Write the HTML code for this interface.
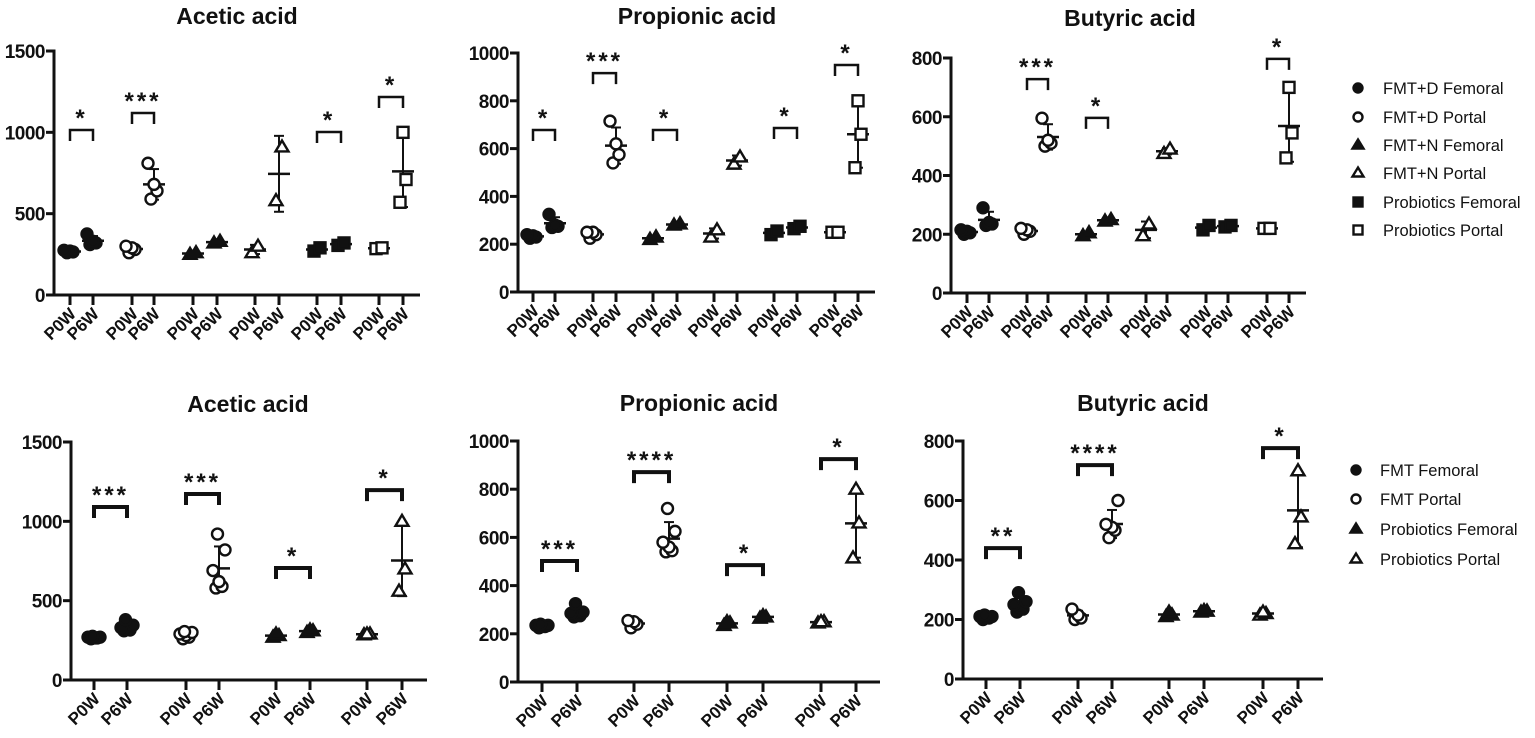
<!DOCTYPE html>
<html><head><meta charset="utf-8">
<style>
html,body{margin:0;padding:0;background:#fff;}
svg{display:block;font-family:"Liberation Sans",Arial,sans-serif;}
</style></head>
<body>
<svg id="fig" width="1535" height="738" viewBox="0 0 1535 738" xmlns="http://www.w3.org/2000/svg"></svg>
<script>
// ---------- DATA ----------
const topShapes = ['circle','circle','tri','tri','square','square'];
const topFilled = [1,0,1,0,1,0];
const botShapes = ['circle','circle','tri','tri'];
const botFilled = [1,0,1,0];
const timeLabels = ['P0W','P6W'];

const topAceticP0W = [[260,265,270,275],[260,280,290,300],[250,260],[260,300],[270,290],[285,290]];
const topAceticP6W = [[310,320,330,375],[590,640,680,810],[320,330],[580,910],[305,320],[570,710,1000]];
const topAceticSig = [[0,'*',1014],[1,'***',1119],[4,'*',1002],[5,'*',1217]];
const topAceticTicks = [0,500,1000,1500];

const topPropP0W = [[225,230,235,240],[225,240,250,250],[220,230],[230,260],[240,255],[250,250]];
const topPropP6W = [[270,275,280,325],[540,575,620,715],[280,285],[535,565],[265,275],[520,660,800]];
const topPropSig = [[0,'*',678],[1,'***',916],[2,'*',678],[4,'*',686],[5,'*',950]];
const topPropTicks = [0,200,400,600,800,1000];

const topButP0W = [[200,205,210,215],[200,210,215,220],[195,205],[195,235],[215,230],[220,220]];
const topButP6W = [[230,235,240,290],[500,510,520,595],[245,250],[475,490],[225,230],[460,545,700]];
const topButSig = [[1,'***',728],[2,'*',596],[5,'*',797]];
const topButTicks = [0,200,400,600,800];

const botAceticP0W = [[260,265,265,270,270,275],[260,270,280,290,300,305],[270,280,290],[285,290,290]];
const botAceticP6W = [[310,315,320,330,345,380],[580,590,620,690,820,920],[300,310,315],[560,700,1000]];
const botAceticSig = [[0,'***',1090],[1,'***',1172],[2,'*',706],[3,'*',1197]];

const botPropP0W = [[225,230,230,235,235,240],[225,240,250,255],[235,245,250],[245,250,250]];
const botPropP6W = [[270,275,280,285,290,325],[540,545,560,580,625,720],[265,270,275],[515,660,800]];
const botPropSig = [[0,'***',502],[1,'****',871],[2,'*',485],[3,'*',925]];

const botButP0W = [[200,205,205,210,210,215],[200,205,215,235],[210,215,225],[215,220,225]];
const botButP6W = [[225,235,240,250,260,290],[475,500,510,520,600],[225,228,230],[455,545,700]];
const botButSig = [[0,'**',440],[1,'****',719],[3,'*',776]];

const topLegend = ['FMT+D Femoral','FMT+D Portal','FMT+N Femoral','FMT+N Portal','Probiotics Femoral','Probiotics Portal'];
const botLegend = ['FMT  Femoral','FMT  Portal','Probiotics  Femoral','Probiotics  Portal'];

// ---------- LAYOUT ----------
const panels = [
 {name:'top-acetic',title:'Acetic acid',tx:237,ty:24,ax:54,yT:51,y0:295,xe:420,max:1500,ticks:topAceticTicks,
  cx:[70,93,132,154,193,217,255,279,317,341,379,403],p0:topAceticP0W,p6:topAceticP6W,sig:topAceticSig,shapes:topShapes,filled:topFilled,bw:2.5},
 {name:'top-propionic',title:'Propionic acid',tx:697,ty:24,ax:518,yT:53,y0:292,xe:875,max:1000,ticks:topPropTicks,
  cx:[533,555,593,616,653,677,714,737,774,797,835,858],p0:topPropP0W,p6:topPropP6W,sig:topPropSig,shapes:topShapes,filled:topFilled,bw:2.5},
 {name:'top-butyric',title:'Butyric acid',tx:1130,ty:26,ax:951,yT:58,y0:293,xe:1306,max:800,ticks:topButTicks,
  cx:[967,989,1027,1048,1086,1108,1146,1167,1206,1228,1267,1289],p0:topButP0W,p6:topButP6W,sig:topButSig,shapes:topShapes,filled:topFilled,bw:2.5},
 {name:'bottom-acetic',title:'Acetic acid',tx:248,ty:412,ax:71,yT:442,y0:680,xe:427,max:1500,ticks:topAceticTicks,
  cx:[94,127,186,219,276,310,367,402],p0:botAceticP0W,p6:botAceticP6W,sig:botAceticSig,shapes:botShapes,filled:botFilled,bw:4},
 {name:'bottom-propionic',title:'Propionic acid',tx:699,ty:411,ax:518,yT:441,y0:682,xe:880,max:1000,ticks:topPropTicks,
  cx:[542,577,634,669,727,763,821,856],p0:botPropP0W,p6:botPropP6W,sig:botPropSig,shapes:botShapes,filled:botFilled,bw:4},
 {name:'bottom-butyric',title:'Butyric acid',tx:1143,ty:411,ax:963,yT:441,y0:679,xe:1323,max:800,ticks:topButTicks,
  cx:[986,1020,1078,1112,1169,1204,1263,1298],p0:botButP0W,p6:botButP6W,sig:botButSig,shapes:botShapes,filled:botFilled,bw:4}
];
const jit = [-3,3,0,-6,6,-1.5,1.5];

const svg = document.getElementById('fig');
const NS = 'http://www.w3.org/2000/svg';
function mk(tag, attrs, parent){
  const e = document.createElementNS(NS, tag);
  for (const k in attrs) e.setAttribute(k, attrs[k]);
  (parent||svg).appendChild(e);
  return e;
}
function marker(g, shape, filled, x, y, s){
  const fill = filled ? '#111' : '#fff';
  let m;
  if (shape==='circle') m = mk('circle',{cx:x,cy:y,r:s,fill:fill,stroke:'#111','stroke-width':2.4},g);
  else if (shape==='square') m = mk('rect',{x:x-s,y:y-s,width:2*s,height:2*s,fill:fill,stroke:'#111','stroke-width':2.4},g);
  else m = mk('polygon',{points:`${x},${y-s-1} ${x+s+1},${y+s-1} ${x-s-1},${y+s-1}`,fill:fill,stroke:'#111','stroke-width':2.4,'stroke-linejoin':'miter'},g);
  return m;
}
function stats(a){
  const m = a.reduce((s,v)=>s+v,0)/a.length;
  const sd = a.length>1 ? Math.sqrt(a.reduce((s,v)=>s+(v-m)*(v-m),0)/(a.length-1)) : 0;
  return [m,sd];
}

panels.forEach(p=>{
  const g = mk('g',{});
  
  
  const Y = v => p.y0 - v/p.max*(p.y0-p.yT);
  const t = mk('text',{x:p.tx,y:p.ty,'text-anchor':'middle','font-size':23,'font-weight':'bold',fill:'#111'},g);
  t.textContent = p.title;
  
  
  const ya = mk('line',{x1:p.ax,y1:p.yT-1.5,x2:p.ax,y2:p.y0,stroke:'#111','stroke-width':3},g);
  
  
  const xa = mk('line',{x1:p.ax-1.5,y1:p.y0,x2:p.xe,y2:p.y0,stroke:'#111','stroke-width':3},g);
  
  
  p.ticks.forEach(v=>{
    mk('line',{x1:p.ax-8,y1:Y(v),x2:p.ax,y2:Y(v),stroke:'#111','stroke-width':3},g);
    const tl = mk('text',{x:p.ax-9,y:Y(v)+7,'text-anchor':'end','font-size':19,'font-weight':'bold',fill:'#111','letter-spacing':-0.5},g);
    tl.textContent = v;
    
    
  });
  p.cx.forEach((x,i)=>{
    mk('line',{x1:x,y1:p.y0,x2:x,y2:p.y0+10,stroke:'#111','stroke-width':3},g);
    const xl = mk('text',{x:x+7,y:p.y0+20,'text-anchor':'end','font-size':17,'font-weight':'bold',fill:'#111',transform:`rotate(-45 ${x+7} ${p.y0+20})`},g);
    xl.textContent = timeLabels[i%2];
    
    
  });
  p.p0.forEach((grp,gi)=>{
    [p.p0[gi], p.p6[gi]].forEach((vals,ti)=>{
      const x = p.cx[gi*2+ti];
      const [m,sd] = stats(vals);
      const eb = mk('g',{},g);
      
      
      mk('line',{x1:x,y1:Y(m-sd),x2:x,y2:Y(m+sd),stroke:'#111','stroke-width':2},eb);
      mk('line',{x1:x-5,y1:Y(m-sd),x2:x+5,y2:Y(m-sd),stroke:'#111','stroke-width':2},eb);
      mk('line',{x1:x-5,y1:Y(m+sd),x2:x+5,y2:Y(m+sd),stroke:'#111','stroke-width':2},eb);
      mk('line',{x1:x-11,y1:Y(m),x2:x+11,y2:Y(m),stroke:'#111','stroke-width':2.5},eb);
      vals.forEach((v,k)=>{
        const mm = marker(g, p.shapes[gi], p.filled[gi], x+jit[k%jit.length], Y(v), 5.5);
        
        
      });
    });
  });
  p.sig.forEach(s=>{
    const gi = s[0], x1 = p.cx[gi*2], x2 = p.cx[gi*2+1], y = Y(s[2]);
    const b = mk('path',{d:`M${x1},${y+11} V${y} H${x2} V${y+11}`,fill:'none',stroke:'#111','stroke-width':p.bw},g);
    
    
    const st = mk('text',{x:(x1+x2)/2,y:y-4,'text-anchor':'middle','font-size':24,'font-weight':'bold',fill:'#111','letter-spacing':3},g);
    st.textContent = s[1];
    
    
  });
});

function legend(items, shapes, filled, mx, tx, ys, name){
  const g = mk('g',{});
  
  
  items.forEach((lab,i)=>{
    const e = mk('g',{},g);
    
    
    marker(e, shapes[i], filled[i], mx, ys[i], 4.5);
    const t = mk('text',{x:tx,y:ys[i]+6,'font-size':16.5,fill:'#111','xml:space':'preserve'},e);
    t.textContent = lab;
  });
}
legend(topLegend, topShapes, topFilled, 1358, 1383, [88,117,145,173,202,230], 'top-legend');
legend(botLegend, botShapes, botFilled, 1356, 1380, [470,499,529,559], 'bottom-legend');
</script>
</body></html>
